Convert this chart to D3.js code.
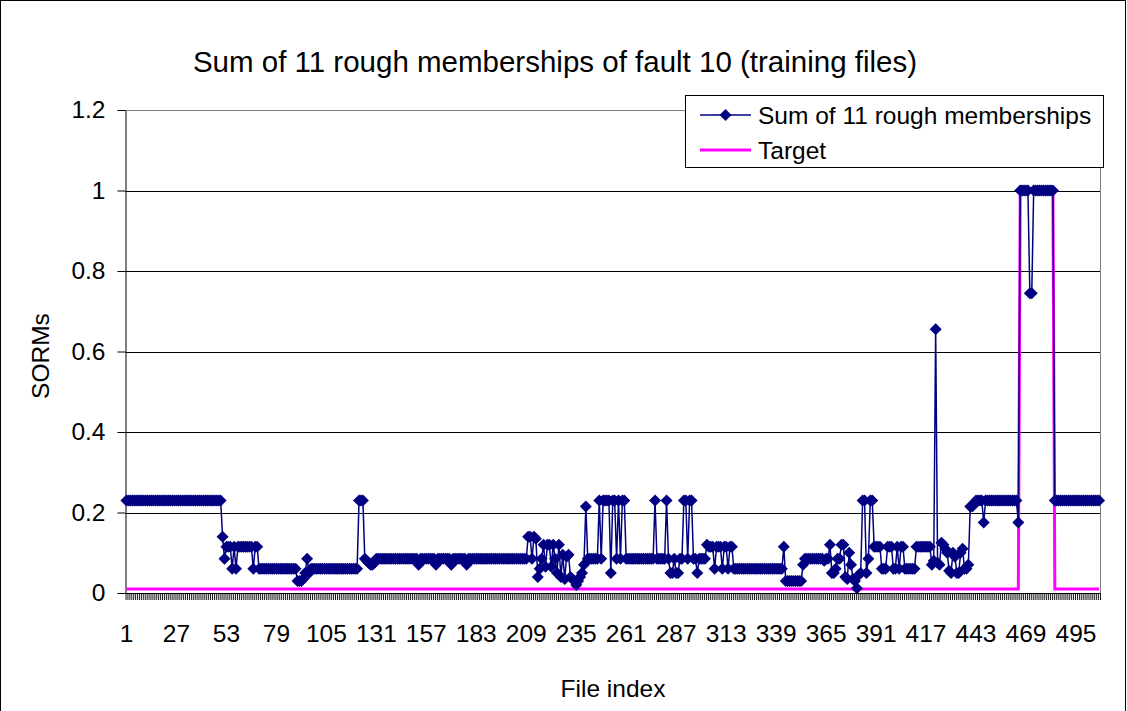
<!DOCTYPE html>
<html><head><meta charset="utf-8">
<script src="https://cdn.jsdelivr.net/npm/d3@7"></script>
<style>
body{margin:0;background:#fff;}
text{font-family:Arial,"Liberation Sans",sans-serif;fill:#000;}
</style>
</head><body>
<svg id="c" width="1127" height="711"></svg>
<script>
// ---------- data ----------
const fileIndex = d3.range(1, 508); // file indices 1..507
const xTickLabels = [1,27,53,79,105,131,157,183,209,235,261,287,313,339,365,391,417,443,469,495];
const yTicks = [0,0.2,0.4,0.6,0.8,1,1.2];
const seriesNames = ["Sum of 11 rough memberships","Target"];

const sorm = [
.23,.23,.23,.23,.23,.23,.23,.23,.23,.23,.23,.23,.23,.23,.23,.23,.23,.23,.23,.23,.23,.23,.23,.23,.23,.23,
.23,.23,.23,.23,.23,.23,.23,.23,.23,.23,.23,.23,.23,.23,.23,.23,.23,.23,.23,.23,.23,.23,.23,.23,.14,.085,
.115,.115,.115,.06,.115,.06,.115,.115,.115,.115,.115,.115,.115,.115,.06,.115,.115,.06,.06,.06,.06,.06,.06,.06,.06,.06,
.06,.06,.06,.06,.06,.06,.06,.06,.06,.06,.06,.03,.03,.03,.035,.05,.085,.05,.06,.06,.06,.06,.06,.06,.06,.06,
.06,.06,.06,.06,.06,.06,.06,.06,.06,.06,.06,.06,.06,.06,.06,.06,.06,.23,.23,.23,.085,.08,.075,.07,.07,.075,
.085,.085,.085,.085,.085,.085,.085,.085,.085,.085,.085,.085,.085,.085,.085,.085,.085,.085,.085,.085,.085,.085,.07,.085,.085,.085,
.085,.085,.085,.085,.085,.07,.085,.085,.085,.085,.085,.085,.085,.07,.085,.085,.085,.085,.085,.085,.085,.07,.085,.085,.085,.085,
.085,.085,.085,.085,.085,.085,.085,.085,.085,.085,.085,.085,.085,.085,.085,.085,.085,.085,.085,.085,.085,.085,.085,.085,.085,.085,
.085,.14,.14,.085,.14,.135,.04,.06,.085,.12,.065,.12,.12,.065,.12,.085,.05,.12,.04,.095,.035,.09,.095,.04,.035,.03,
.02,.03,.04,.05,.07,.215,.085,.085,.085,.085,.085,.085,.23,.085,.23,.23,.23,.23,.05,.23,.23,.085,.23,.085,.23,.23,
.085,.085,.085,.085,.085,.085,.085,.085,.085,.085,.085,.085,.085,.085,.085,.23,.085,.085,.085,.085,.085,.23,.085,.05,.05,.085,
.05,.05,.085,.085,.23,.23,.085,.23,.23,.085,.085,.05,.085,.085,.085,.085,.12,.115,.115,.115,.06,.115,.115,.115,.06,.115,
.115,.06,.115,.115,.06,.06,.06,.06,.06,.06,.06,.06,.06,.06,.06,.06,.06,.06,.06,.06,.06,.06,.06,.06,.06,.06,
.06,.06,.06,.06,.115,.03,.03,.03,.03,.03,.03,.03,.03,.03,.07,.085,.085,.085,.085,.085,.085,.085,.085,.085,.085,.08,
.085,.085,.12,.05,.05,.06,.085,.085,.12,.12,.04,.035,.1,.07,.035,.03,.012,.045,.05,.23,.23,.05,.085,.23,.23,.115,
.115,.115,.115,.06,.06,.06,.115,.115,.115,.06,.06,.115,.06,.115,.115,.06,.06,.06,.06,.06,.06,.115,.115,.115,.115,.115,
.115,.115,.115,.07,.08,.655,.075,.07,.125,.12,.11,.1,.055,.05,.1,.09,.05,.05,.1,.11,.06,.06,.07,.215,.215,.22,
.23,.23,.23,.23,.175,.23,.23,.23,.23,.23,.23,.23,.23,.23,.23,.23,.23,.23,.23,.23,.23,.23,.175,1,1,1,
1,1,.745,.745,1,1,1,1,1,1,1,1,1,1,1,.23,.23,.23,.23,.23,.23,.23,.23,.23,.23,.23,
.23,.23,.23,.23,.23,.23,.23,.23,.23,.23,.23,.23,.23
];

const target = [
.01,.01,.01,.01,.01,.01,.01,.01,.01,.01,.01,.01,.01,.01,.01,.01,.01,.01,.01,.01,.01,.01,.01,.01,.01,.01,
.01,.01,.01,.01,.01,.01,.01,.01,.01,.01,.01,.01,.01,.01,.01,.01,.01,.01,.01,.01,.01,.01,.01,.01,.01,.01,
.01,.01,.01,.01,.01,.01,.01,.01,.01,.01,.01,.01,.01,.01,.01,.01,.01,.01,.01,.01,.01,.01,.01,.01,.01,.01,
.01,.01,.01,.01,.01,.01,.01,.01,.01,.01,.01,.01,.01,.01,.01,.01,.01,.01,.01,.01,.01,.01,.01,.01,.01,.01,
.01,.01,.01,.01,.01,.01,.01,.01,.01,.01,.01,.01,.01,.01,.01,.01,.01,.01,.01,.01,.01,.01,.01,.01,.01,.01,
.01,.01,.01,.01,.01,.01,.01,.01,.01,.01,.01,.01,.01,.01,.01,.01,.01,.01,.01,.01,.01,.01,.01,.01,.01,.01,
.01,.01,.01,.01,.01,.01,.01,.01,.01,.01,.01,.01,.01,.01,.01,.01,.01,.01,.01,.01,.01,.01,.01,.01,.01,.01,
.01,.01,.01,.01,.01,.01,.01,.01,.01,.01,.01,.01,.01,.01,.01,.01,.01,.01,.01,.01,.01,.01,.01,.01,.01,.01,
.01,.01,.01,.01,.01,.01,.01,.01,.01,.01,.01,.01,.01,.01,.01,.01,.01,.01,.01,.01,.01,.01,.01,.01,.01,.01,
.01,.01,.01,.01,.01,.01,.01,.01,.01,.01,.01,.01,.01,.01,.01,.01,.01,.01,.01,.01,.01,.01,.01,.01,.01,.01,
.01,.01,.01,.01,.01,.01,.01,.01,.01,.01,.01,.01,.01,.01,.01,.01,.01,.01,.01,.01,.01,.01,.01,.01,.01,.01,
.01,.01,.01,.01,.01,.01,.01,.01,.01,.01,.01,.01,.01,.01,.01,.01,.01,.01,.01,.01,.01,.01,.01,.01,.01,.01,
.01,.01,.01,.01,.01,.01,.01,.01,.01,.01,.01,.01,.01,.01,.01,.01,.01,.01,.01,.01,.01,.01,.01,.01,.01,.01,
.01,.01,.01,.01,.01,.01,.01,.01,.01,.01,.01,.01,.01,.01,.01,.01,.01,.01,.01,.01,.01,.01,.01,.01,.01,.01,
.01,.01,.01,.01,.01,.01,.01,.01,.01,.01,.01,.01,.01,.01,.01,.01,.01,.01,.01,.01,.01,.01,.01,.01,.01,.01,
.01,.01,.01,.01,.01,.01,.01,.01,.01,.01,.01,.01,.01,.01,.01,.01,.01,.01,.01,.01,.01,.01,.01,.01,.01,.01,
.01,.01,.01,.01,.01,.01,.01,.01,.01,.01,.01,.01,.01,.01,.01,.01,.01,.01,.01,.01,.01,.01,.01,.01,.01,.01,
.01,.01,.01,.01,.01,.01,.01,.01,.01,.01,.01,.01,.01,.01,.01,.01,.01,.01,.01,.01,.01,.01,.01,1,1,1,
1,1,1,1,1,1,1,1,1,1,1,1,1,1,1,.01,.01,.01,.01,.01,.01,.01,.01,.01,.01,.01,
.01,.01,.01,.01,.01,.01,.01,.01,.01,.01,.01,.01,.01
];

// ---------- layout ----------
const W = 1127, H = 711;
const plot = {l:125.5, r:1100, t:110, b:593};
const NAVY = "#000080", MAGENTA = "#FF00FF";
const FS = 24.5, TFS = 29.5;

const svg = d3.select("#c");
svg.append("rect").attr("x",0.5).attr("y",0.5).attr("width",1125).attr("height",725)
  .attr("fill","#fff").attr("stroke","#000").attr("stroke-width",1);

const x = d3.scaleBand().domain(fileIndex).range([plot.l, plot.r]).padding(0);
const bw = x.bandwidth();
const cx = i => x(i) + bw/2;
const xb = d3.scaleLinear().domain([0, fileIndex.length]).range([plot.l, plot.r]);
const y = d3.scaleLinear().domain([0, 1.2]).range([plot.b, plot.t]);

// gridlines
svg.append("g").selectAll("line").data(yTicks.filter(d => d > 0 && d < 1.2)).join("line")
  .attr("x1", plot.l).attr("x2", plot.r)
  .attr("y1", d => Math.round(y(d)) + 0.5).attr("y2", d => Math.round(y(d)) + 0.5)
  .attr("stroke", "#000").attr("stroke-width", 1);
// plot border top/right (gray)
svg.append("path")
  .attr("d", `M${plot.l},${plot.t+0.5}H${plot.r+0.5}V${plot.b}`)
  .attr("fill","none").attr("stroke","#808080").attr("stroke-width",1);

// y axis
const yAxis = svg.append("g").attr("transform", `translate(${plot.l},0)`)
  .call(d3.axisLeft(y).tickValues(yTicks).tickSize(8).tickSizeOuter(0).tickPadding(12).tickFormat(d => String(d)));
yAxis.selectAll("text").attr("font-size", FS).attr("font-family","Arial, 'Liberation Sans', sans-serif");
yAxis.selectAll("line,path").attr("stroke","#000");

// x axis tick marks (between categories)
const xTicks = svg.append("g").attr("transform", `translate(0,${plot.b})`)
  .call(d3.axisBottom(xb).tickValues(d3.range(0, fileIndex.length + 1)).tickSize(7).tickFormat(""));
xTicks.select(".domain").remove();
xTicks.selectAll("line").attr("stroke","#000").attr("stroke-width",0.9);

// x axis labels
const xAxis = svg.append("g").attr("transform", `translate(0,${plot.b})`)
  .call(d3.axisBottom(x).tickValues(xTickLabels).tickSize(0).tickSizeOuter(0).tickPadding(32));
xAxis.selectAll("text").attr("font-size", FS).attr("font-family","Arial, 'Liberation Sans', sans-serif");
xAxis.select(".domain").attr("stroke","#000");

// target line
const targetData = fileIndex.map((f,k) => ({f, v: target[k]}));
const sormData = fileIndex.map((f,k) => ({f, v: sorm[k]}));
const line = d3.line().x(d => cx(d.f)).y(d => y(d.v));
svg.append("path").datum(targetData).attr("d", line)
  .attr("fill","none").attr("stroke",MAGENTA).attr("stroke-width",3);

// sorm line
svg.append("path").datum(sormData).attr("d", line)
  .attr("fill","none").attr("stroke",NAVY).attr("stroke-width",1.5);
const diamond = "M0,-6L6,0L0,6L-6,0Z";
svg.append("g").selectAll("path").data(sormData).join("path")
  .attr("d", diamond)
  .attr("transform", d => `translate(${cx(d.f)},${y(d.v)})`)
  .attr("fill", NAVY);

// title
svg.append("text").attr("x", 555).attr("y", 72).attr("text-anchor","middle")
  .attr("font-size", TFS).text("Sum of 11 rough memberships of fault 10 (training files)");
// axis titles
svg.append("text").attr("transform","translate(49,356) rotate(-90)").attr("text-anchor","middle")
  .attr("font-size", FS).text("SORMs");
svg.append("text").attr("x", 613).attr("y", 697).attr("text-anchor","middle")
  .attr("font-size", FS).text("File index");

// legend
const lg = svg.append("g");
lg.append("rect").attr("x",685.5).attr("y",95.5).attr("width",418).attr("height",72)
  .attr("fill","#fff").attr("stroke","#000").attr("stroke-width",1);
const rows = [{name: seriesNames[0], color: NAVY, w: 1.5, marker: true, y: 115},
              {name: seriesNames[1], color: MAGENTA, w: 3, marker: false, y: 150}];
rows.forEach(r => {
  lg.append("line").attr("x1",700).attr("x2",751).attr("y1",r.y).attr("y2",r.y)
    .attr("stroke", r.color).attr("stroke-width", r.w);
  if (r.marker) lg.append("path").attr("d", diamond).attr("transform",`translate(725.5,${r.y})`).attr("fill", r.color);
  lg.append("text").attr("x",758).attr("y", r.y + 8.5).attr("font-size", FS).text(r.name);
});
</script>
</body></html>
